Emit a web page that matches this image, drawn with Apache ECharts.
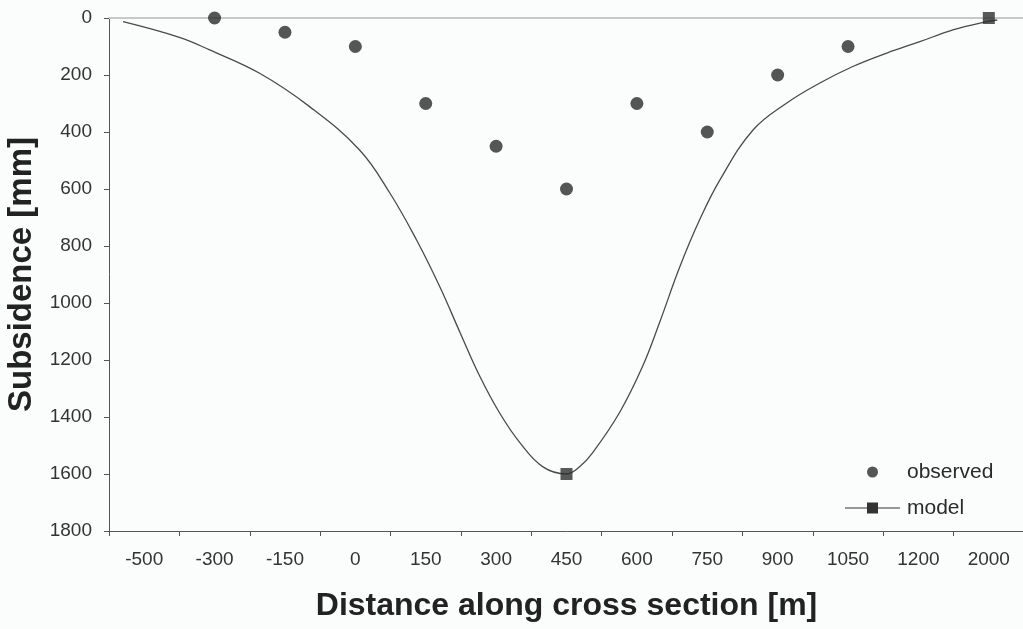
<!DOCTYPE html>
<html>
<head>
<meta charset="utf-8">
<script src="https://cdn.jsdelivr.net/npm/echarts@6/dist/echarts.min.js"></script>
<style>
html,body{margin:0;padding:0;background:#fbfcfc;}
#chart{width:1023px;height:629px;}
</style>
</head>
<body>
<div id="chart"></div>
<script>
// Category labels along the cross section
const categories = ['-500','-300','-150','0','150','300','450','600','750','900','1050','1200','2000'];
// Observed subsidence [mm] per category
const observed = [null, 0, 50, 100, 300, 450, 600, 300, 400, 200, 100, null, null];
// Model marker points [mm] per category
const modelPoints = [null, null, null, null, null, null, 1600, null, null, null, null, null, 0];
// Model curve: position in category units (0 = first category centre) and subsidence [mm]
const curvePos  = [-0.3, 0.5, 0.93, 1.64, 2.35, 3.06, 3.49, 3.87, 4.20, 4.49, 4.77, 5.05, 5.34, 5.66, 6.0, 6.19, 6.37, 6.75, 7.08, 7.32, 7.61, 7.89, 8.18, 8.65, 9.13, 9.60, 10.06, 10.55, 11.02, 11.49, 11.97, 12.12];
const curveSubs = [13, 68, 112, 194, 311, 463, 614, 779, 943, 1105, 1258, 1386, 1491, 1574, 1600, 1574, 1526, 1386, 1223, 1070, 873, 709, 568, 393, 298, 228, 171, 123, 83, 42, 13, 7];
// Y tick settings
const yMin = 0, yMax = 1800, yStep = 200;

const chart = echarts.init(document.getElementById('chart'), null, {renderer: 'canvas'});
const font = 'Liberation Sans, Arial, sans-serif';
const curveData = curvePos.map((x, i) => [x, curveSubs[i]]);

chart.setOption({
  backgroundColor: '#fbfcfc',
  animation: false,
  textStyle: {fontFamily: font},
  grid: {left: 109, top: 18, width: 915, height: 513, containLabel: false, outerBoundsMode: 'none'},
  legend: {
    left: 845, top: 460, orient: 'vertical', padding: 0,
    itemWidth: 55, itemHeight: 11, itemGap: 12,
    textStyle: {fontSize: 21, color: '#2a2a2a', fontFamily: font, lineHeight: 24, padding: [0,0,0,2]},
    data: [
      {name: 'observed', icon: 'circle'},
      {name: 'model', icon: 'path://M0,5 L22,5 L22,0 L33,0 L33,5 L55,5 L55,6 L33,6 L33,11 L22,11 L22,6 L0,6 Z'}
    ]
  },
  xAxis: [
    {
      type: 'category', data: categories, boundaryGap: true, position: 'bottom',
      name: 'Distance along cross section [m]', nameLocation: 'middle', nameGap: 59,
      nameTextStyle: {fontSize: 32, fontWeight: 'bold', color: '#222', fontFamily: font},
      axisLine: {onZero: false, lineStyle: {color: '#555', width: 1}},
      axisTick: {show: true, length: 5, lineStyle: {color: '#555'}},
      axisLabel: {fontSize: 19, color: '#333', margin: 19, interval: 0, fontFamily: font},
      splitLine: {show: false}
    },
    {
      type: 'value', min: -0.5, max: 12.5, position: 'top',
      axisLine: {show: true, onZero: false, lineStyle: {color: '#c8c8c8', width: 2}},
      axisTick: {show: false}, axisLabel: {show: false}, splitLine: {show: false}
    }
  ],
  yAxis: {
    type: 'value', inverse: true, min: yMin, max: yMax, interval: yStep,
    name: 'Subsidence [mm]', nameLocation: 'middle', nameGap: 65,
    nameTextStyle: {fontSize: 33, fontWeight: 'bold', color: '#222', fontFamily: font},
    axisLine: {show: true, onZero: false, lineStyle: {color: '#555', width: 1}},
    axisTick: {show: true, length: 5, lineStyle: {color: '#555'}},
    axisLabel: {fontSize: 19, color: '#333', margin: 17, fontFamily: font, formatter: v => String(v)},
    splitLine: {show: false}
  },
  series: [
    {
      name: 'observed', type: 'scatter', xAxisIndex: 0,
      data: observed, symbol: 'circle', symbolSize: 13,
      itemStyle: {color: '#2b2b2b'}
    },
    {
      name: 'model', type: 'line', xAxisIndex: 1, data: curveData,
      smooth: 0.4, showSymbol: false, symbol: 'none',
      lineStyle: {color: '#4a4a4a', width: 1.3},
      itemStyle: {color: '#333'}, z: 2
    },
    {
      name: 'model points', type: 'scatter', xAxisIndex: 0,
      data: modelPoints, symbol: 'rect', symbolSize: 12,
      itemStyle: {color: '#2e2e2e'}, z: 3
    }
  ]
});
</script>
</body>
</html>
